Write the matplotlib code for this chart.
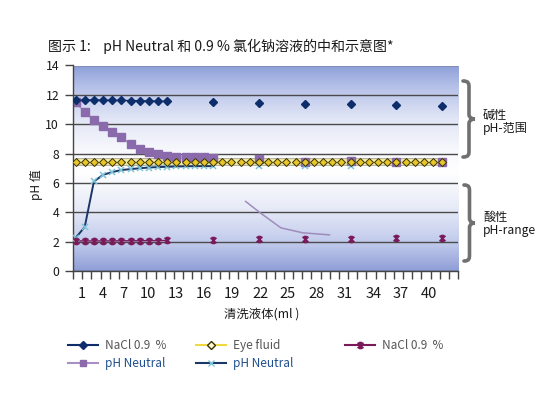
import matplotlib
matplotlib.use("Agg")
import matplotlib.pyplot as plt
import numpy as np
from matplotlib.colors import LinearSegmentedColormap
from matplotlib.lines import Line2D
from matplotlib.path import Path
from matplotlib.patches import PathPatch

plt.rcParams['font.family'] = ['Noto Sans CJK SC', 'DejaVu Sans']

nan = np.nan

# x = sample number (category), values are pH readings
nacl_x = [1, 2, 3, 4, 5, 6, 7, 8, 9, 10, 11, 16, 21, 26, 31, 36, 41]
nacl_alk = [11.65, 11.65, 11.65, 11.64, 11.63, 11.62, 11.61, 11.6, 11.58, 11.57, 11.55,
            11.5, 11.45, 11.4, 11.35, 11.3, 11.25]
nacl_acid = [2.05, 2.05, 2.05, 2.05, 2.05, 2.06, 2.06, 2.06, 2.07, 2.07, 2.08,
             2.1, 2.15, 2.15, 2.2, 2.25, 2.25]

eye_x = list(range(1, 42))
eye_fluid = [7.4, 7.4, 7.4, 7.4, 7.4, 7.4, 7.4, 7.4, 7.4, 7.4, 7.4, 7.4, 7.4, 7.4,
             7.4, 7.4, 7.4, 7.4, 7.4, 7.4, 7.4, 7.4, 7.4, 7.4, 7.4, 7.4, 7.4, 7.4,
             7.4, 7.4, 7.4, 7.4, 7.4, 7.4, 7.4, 7.4, 7.4, 7.4, 7.4, 7.4, 7.4]

neutral_alk_x = [1, 2, 3, 4, 5, 6, 7, 8, 9, 10, 11, 12, 13, 14, 15, 16, 21, 26, 31, 36, 41]
neutral_alk = [11.48, 10.82, 10.28, 9.91, 9.48, 9.12, 8.62, 8.3, 8.12, 8.0, 7.84,
               7.8, 7.76, 7.74, 7.74, 7.67, 7.6, 7.45, 7.5, 7.45, 7.4]

neutral_acid_x = [1, 2, 3, 4, 5, 6, 7, 8, 9, 10, 11, 12, 13, 14, 15, 16, 21, 26, 31]
neutral_acid = [2.25, 3.0, 6.1, 6.55, 6.74, 6.88, 6.94, 7.0, 7.05, 7.08, 7.1,
                7.12, 7.13, 7.14, 7.14, 7.14, 7.12, 7.15, 7.15]

curve_x = [19.55, 21.15, 23.4, 25.8, 28.7]
curve_y = [4.74, 3.96, 2.94, 2.6, 2.46]

tick_pos = [1.7, 4.0, 6.2, 8.9, 11.9, 15.0, 18.1, 21.2, 24.1, 27.3, 30.4, 33.5, 36.5, 39.6]
tick_lab = ['1', '4', '7', '10', '13', '16', '19', '22', '25', '28', '31', '34', '37', '40']

navy = '#0d2d6b'
magenta = '#7a1a5a'
purple = '#8b6aab'
lpurple = '#a890c4'
cyan = '#7cc4dc'
yfill = '#e6c62a'


def with_gaps(xs, ys):
    # break the line where samples are not consecutive
    gx, gy = [], []
    for i in range(len(xs)):
        if i > 0 and xs[i] - xs[i - 1] > 1:
            gx.append(nan)
            gy.append(nan)
        gx.append(xs[i])
        gy.append(ys[i])
    return gx, gy


# asterisk-like star marker
star = Path([(-1, -1), (1, 1), (-1, 1), (1, -1), (0, -1.1), (0, 1.1),
             (-0.45, 1), (0.45, 1), (-0.45, -1), (0.45, -1)],
            [Path.MOVETO, Path.LINETO] * 5)

fig = plt.figure(figsize=(5.58, 3.97), dpi=100)
fig.patch.set_facecolor('white')
ax = fig.add_axes([73 / 558, 1 - 271 / 397, 385 / 558, 205.5 / 397])

bg = LinearSegmentedColormap.from_list('bg', [
    (0.0, '#8e9dd6'), (0.12, '#bcc6ea'), (0.3, '#e6eaf7'), (0.48, '#ffffff'),
    (0.6, '#f6f7fc'), (0.75, '#dfe4f5'), (0.9, '#b4c0e8'), (1.0, '#8d9fd8')])
grad = np.linspace(0, 1, 256).reshape(-1, 1)
ax.imshow(grad, extent=[0, 1, 0, 1], transform=ax.transAxes, aspect='auto',
          cmap=bg, origin='lower', zorder=-2)

# eye fluid band
ax.plot(eye_x, eye_fluid, color='#a8a48c', lw=5.5, zorder=2, solid_capstyle='butt')
ax.plot(eye_x, eye_fluid, color='#f3eea8', lw=4.2, zorder=2.1, solid_capstyle='butt')

gx, gy = with_gaps(nacl_x, nacl_alk)
ax.plot(gx, gy, color=navy, lw=1)
ax.plot(nacl_x, nacl_alk, ls='none', marker='D', ms=4, color=navy, zorder=3)

gx, gy = with_gaps(neutral_alk_x, neutral_alk)
ax.plot(gx, gy, color=lpurple, lw=1)
ax.plot(neutral_alk_x, neutral_alk, ls='none', marker='s', ms=5.5, color=purple, zorder=2.5)

ax.plot(eye_x, eye_fluid, ls='none', marker='D', ms=3.8, mfc=yfill, mec='#3a3000',
        mew=0.7, zorder=3)

gx, gy = with_gaps(nacl_x, nacl_acid)
ax.plot(gx, gy, color=magenta, lw=1)
ax.plot(nacl_x, nacl_acid, ls='none', marker=star, ms=4.5, color=magenta, mew=1.4, zorder=3)

gx, gy = with_gaps(neutral_acid_x, neutral_acid)
ax.plot(gx, gy, color='#1a3766', lw=1.4, zorder=2)
ax.plot(neutral_acid_x, neutral_acid, ls='none', marker='x', ms=5, color=cyan, mew=1.1, zorder=2.6)

ax.plot(curve_x, curve_y, color='#a08cbc', lw=1.1)

ax.set_xlim(0.72, 42.72)
ax.set_ylim(0, 14)
ax.set_yticks(range(0, 15, 2))
ax.yaxis.grid(True, color='#4a4a4a', lw=1)
ax.set_axisbelow(True)
ax.set_xticks(tick_pos)
ax.set_xticklabels(tick_lab)
ax.set_xticks(np.arange(0.72, 42.8, 1.0), minor=True)
ax.tick_params(axis='x', which='major', length=0, pad=11.5, labelsize=10.5, labelcolor='#1a1a1a')
ax.tick_params(axis='x', which='minor', length=6, width=1, color='#444444')
ax.tick_params(axis='y', length=6, width=1, color='#444444', pad=4, labelsize=8.8,
               labelcolor='#1a1a1a')
for s in ['top', 'right']:
    ax.spines[s].set_visible(False)
for s in ['left', 'bottom']:
    ax.spines[s].set_color('#444444')
    ax.spines[s].set_linewidth(1)

fig.text(48 / 558, 1 - 46 / 397, '图示 1:    pH Neutral 和 0.9 % 氯化钠溶液的中和示意图*',
         fontsize=10.1, ha='left', va='center', color='#1a1a1a')
fig.text(262 / 558, 1 - 314 / 397, '清洗液体(ml )', fontsize=8.9, ha='center', va='center',
         color='#1a1a1a')
fig.text(36 / 558, 1 - 185 / 397, 'pH 值', fontsize=8.6, ha='center', va='center',
         rotation=90, color='#1a1a1a')


def brace(x0, ytop, ybot, w):
    ym = (ytop + ybot) / 2
    h = (ybot - ytop) / 2
    pts = [(0, 1), (0.5, 1), (0.5, 0.92), (0.5, 0.84), (0.5, 0.12),
           (0.5, 0.03), (0.8, 0.0), (1, 0), (0.8, 0.0), (0.5, -0.03), (0.5, -0.12),
           (0.5, -0.84), (0.5, -0.92), (0.5, -1), (0, -1)]
    codes = [Path.MOVETO, Path.CURVE4, Path.CURVE4, Path.CURVE4, Path.LINETO,
             Path.CURVE4, Path.CURVE4, Path.CURVE4, Path.CURVE4, Path.CURVE4, Path.CURVE4,
             Path.LINETO, Path.CURVE4, Path.CURVE4, Path.CURVE4]
    verts = [((x0 + u * w) / 558, 1 - (ym - v * h) / 397) for u, v in pts]
    fig.add_artist(PathPatch(Path(verts, codes), transform=fig.transFigure,
                             fill=False, ec='#707070', lw=2.6, capstyle='round'))


brace(463, 81, 157, 12)
brace(464, 185, 261, 11)
fig.text(483 / 558, 1 - 122 / 397, '碱性\npH-范围', fontsize=8.7, ha='left', va='center',
         linespacing=1.05, color='#1a1a1a')
fig.text(483 / 558, 1 - 224 / 397, '酸性\npH-range', fontsize=8.7, ha='left', va='center',
         linespacing=1.05, color='#1a1a1a')

# legend, laid out in three columns
h_nacl = Line2D([], [], color=navy, marker='D', ms=4, lw=1.5)
h_eye = Line2D([], [], color='#f0d840', marker='D', ms=4, mfc='#fff8d0', mec='#3a3000', lw=1.5)
h_acid = Line2D([], [], color=magenta, marker=star, ms=4.5, mew=1.4, lw=1.5)
h_sq = Line2D([], [], color=lpurple, marker='s', ms=5, mfc=purple, mec=purple, lw=1.5)
h_x = Line2D([], [], color='#1a3766', marker='x', ms=5, mec=cyan, lw=1.5)

cols = [([h_nacl, h_sq], ['NaCl 0.9  %', 'pH Neutral'], 68),
        ([h_eye, h_x], ['Eye fluid', 'pH Neutral'], 196),
        ([h_acid], ['NaCl 0.9  %'], 345)]
for hs, labs, px in cols:
    leg = fig.legend(hs, labs, loc='upper left', bbox_to_anchor=(px / 558, 1 - 339 / 397),
                     frameon=False, borderpad=0, borderaxespad=0, fontsize=8.5,
                     handlelength=2.5, handletextpad=0.6, labelspacing=0.45)
    for t, lab in zip(leg.get_texts(), labs):
        t.set_color('#1f4f8f' if lab == 'pH Neutral' else '#555555')

fig.savefig('out.png', dpi=100)
